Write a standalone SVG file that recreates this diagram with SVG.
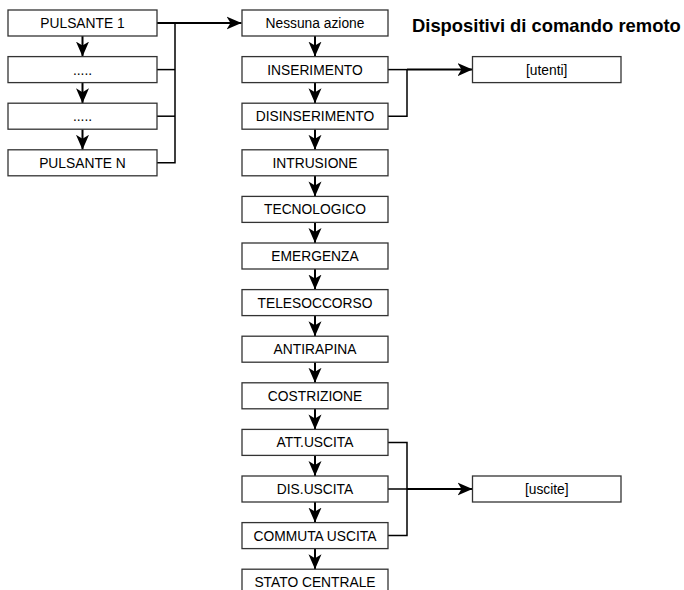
<svg xmlns="http://www.w3.org/2000/svg" width="684" height="590" viewBox="0 0 684 590">
  <style>
    .box { fill: #ffffff; stroke: #333333; stroke-width: 1.3; }
    .lbl { font-family: "Liberation Sans", Arial, sans-serif; font-size: 13.8px; fill: #000000; text-anchor: middle; }
    .title { font-family: "Liberation Sans", Arial, sans-serif; font-size: 18.4px; font-weight: bold; fill: #000000; }
    .edge { fill: none; stroke: #000000; stroke-width: 2; }
    .stub { fill: none; stroke: #000000; stroke-width: 1.5; }
  </style>
  <defs>
    <marker id="arrow" markerUnits="userSpaceOnUse" markerWidth="16" markerHeight="14" viewBox="0 0 16 14" refX="15" refY="7" orient="auto">
      <path d="M0,0.5 L15,7 L0,13.5 L4,7 Z" fill="#000000"/>
    </marker>
  </defs>

  <rect width="684" height="590" fill="#ffffff"/>

  <text class="title" x="412" y="31.5">Dispositivi di comando remoto</text>

  <!-- connectors -->
  <g id="connectors">
    <!-- left chain of buttons -->
    <line class="edge" x1="82.5" y1="36" x2="82.5" y2="56.6" marker-end="url(#arrow)"/>
    <line class="edge" x1="82.5" y1="82.6" x2="82.5" y2="103.2" marker-end="url(#arrow)"/>
    <line class="edge" x1="82.5" y1="129.2" x2="82.5" y2="149.8" marker-end="url(#arrow)"/>
    <!-- buttons merge into the action list -->
    <polyline class="stub" points="157,69.6 175,69.6"/>
    <polyline class="stub" points="157,116.2 175,116.2"/>
    <polyline class="stub" points="157,162.8 175,162.8 175,23"/>
    <line class="edge" x1="157" y1="23" x2="241.5" y2="23" marker-end="url(#arrow)"/>

    <!-- action list chain -->
    <line class="edge" x1="315" y1="36" x2="315" y2="56.6" marker-end="url(#arrow)"/>
    <line class="edge" x1="315" y1="82.6" x2="315" y2="103.2" marker-end="url(#arrow)"/>
    <line class="edge" x1="315" y1="129.2" x2="315" y2="149.8" marker-end="url(#arrow)"/>
    <line class="edge" x1="315" y1="175.8" x2="315" y2="196.4" marker-end="url(#arrow)"/>
    <line class="edge" x1="315" y1="222.4" x2="315" y2="243" marker-end="url(#arrow)"/>
    <line class="edge" x1="315" y1="269" x2="315" y2="289.6" marker-end="url(#arrow)"/>
    <line class="edge" x1="315" y1="315.6" x2="315" y2="336.2" marker-end="url(#arrow)"/>
    <line class="edge" x1="315" y1="362.2" x2="315" y2="382.8" marker-end="url(#arrow)"/>
    <line class="edge" x1="315" y1="408.8" x2="315" y2="429.4" marker-end="url(#arrow)"/>
    <line class="edge" x1="315" y1="455.4" x2="315" y2="476" marker-end="url(#arrow)"/>
    <line class="edge" x1="315" y1="502" x2="315" y2="522.6" marker-end="url(#arrow)"/>
    <line class="edge" x1="315" y1="548.6" x2="315" y2="569.2" marker-end="url(#arrow)"/>

    <!-- arm / disarm to users -->
    <polyline class="stub" points="388,69.6 407,69.6"/>
    <polyline class="stub" points="388,116.2 407,116.2 407,69.6"/>
    <line class="edge" x1="407" y1="69.6" x2="472.5" y2="69.6" marker-end="url(#arrow)"/>

    <!-- output commands to outputs -->
    <polyline class="stub" points="388,442.4 407,442.4 407,535.6 388,535.6"/>
    <polyline class="stub" points="388,489 407,489"/>
    <line class="edge" x1="407" y1="489" x2="472.5" y2="489" marker-end="url(#arrow)"/>
  </g>

  <!-- button nodes -->
  <g id="pulsante-1"><rect class="box" x="8" y="10" width="149" height="26"/><text class="lbl" x="82.5" y="28">PULSANTE 1</text></g>
  <g id="pulsante-2"><rect class="box" x="8" y="56.6" width="149" height="26"/><text class="lbl" x="82.5" y="74.6">.....</text></g>
  <g id="pulsante-3"><rect class="box" x="8" y="103.2" width="149" height="26"/><text class="lbl" x="82.5" y="121.2">.....</text></g>
  <g id="pulsante-n"><rect class="box" x="8" y="149.8" width="149" height="26"/><text class="lbl" x="82.5" y="167.8">PULSANTE N</text></g>

  <!-- action nodes -->
  <g id="nessuna-azione"><rect class="box" x="242" y="10" width="146" height="26"/><text class="lbl" x="315" y="28">Nessuna azione</text></g>
  <g id="inserimento"><rect class="box" x="242" y="56.6" width="146" height="26"/><text class="lbl" x="315" y="74.6">INSERIMENTO</text></g>
  <g id="disinserimento"><rect class="box" x="242" y="103.2" width="146" height="26"/><text class="lbl" x="315" y="121.2">DISINSERIMENTO</text></g>
  <g id="intrusione"><rect class="box" x="242" y="149.8" width="146" height="26"/><text class="lbl" x="315" y="167.8">INTRUSIONE</text></g>
  <g id="tecnologico"><rect class="box" x="242" y="196.4" width="146" height="26"/><text class="lbl" x="315" y="214.4">TECNOLOGICO</text></g>
  <g id="emergenza"><rect class="box" x="242" y="243" width="146" height="26"/><text class="lbl" x="315" y="261">EMERGENZA</text></g>
  <g id="telesoccorso"><rect class="box" x="242" y="289.6" width="146" height="26"/><text class="lbl" x="315" y="307.6">TELESOCCORSO</text></g>
  <g id="antirapina"><rect class="box" x="242" y="336.2" width="146" height="26"/><text class="lbl" x="315" y="354.2">ANTIRAPINA</text></g>
  <g id="costrizione"><rect class="box" x="242" y="382.8" width="146" height="26"/><text class="lbl" x="315" y="400.8">COSTRIZIONE</text></g>
  <g id="att-uscita"><rect class="box" x="242" y="429.4" width="146" height="26"/><text class="lbl" x="315" y="447.4">ATT.USCITA</text></g>
  <g id="dis-uscita"><rect class="box" x="242" y="476" width="146" height="26"/><text class="lbl" x="315" y="494">DIS.USCITA</text></g>
  <g id="commuta-uscita"><rect class="box" x="242" y="522.6" width="146" height="26"/><text class="lbl" x="315" y="540.6">COMMUTA USCITA</text></g>
  <g id="stato-centrale"><rect class="box" x="242" y="569.2" width="146" height="26"/><text class="lbl" x="315" y="587.2">STATO CENTRALE</text></g>

  <!-- target nodes -->
  <g id="utenti"><rect class="box" x="472.5" y="56.6" width="148.5" height="26"/><text class="lbl" x="546.75" y="74.6">[utenti]</text></g>
  <g id="uscite"><rect class="box" x="472.5" y="476" width="148.5" height="26"/><text class="lbl" x="546.75" y="494">[uscite]</text></g>
</svg>
